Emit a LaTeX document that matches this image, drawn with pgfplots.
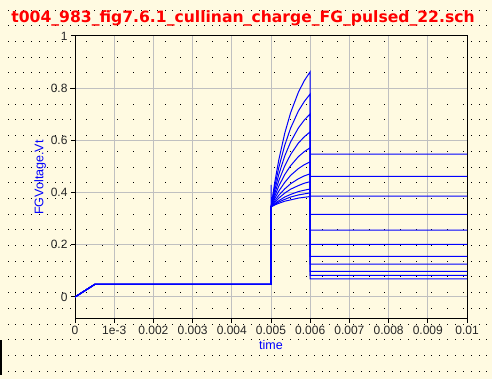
\documentclass[border=0pt]{standalone}
\usepackage{pgfplots}
\pgfplotsset{compat=1.18}
\usepackage{fontspec}
\setmainfont{Liberation Sans}
\newfontfamily\titlefont{DejaVu Sans}
\definecolor{bgc}{RGB}{255,250,225}
\definecolor{gridc}{RGB}{192,192,192}
\definecolor{qblue}{RGB}{0,0,255}
\pgfplotsset{qline/.style={draw=qblue, solid, line width=1pt, mark=none}}
\begin{document}
\begin{tikzpicture}[x=1pt,y=1pt]
\fill[bgc] (0,0) rectangle (492,379);
\path[use as bounding box] (0,0) rectangle (492,379);
\foreach \i in {0,...,30} {\foreach \j in {0,...,23} {\fill[black] ({7.5+15.7*\i},{379-9.6-15.7*\j}) rectangle +(1,-1);}}
\begin{scope}[even odd rule]
\clip (0,0) rectangle (492,379) (75,60) rectangle (467,343);
\foreach \i in {0,...,30} {\foreach \j in {0,...,23} {\fill[black] ({15.35+15.7*\i},{379-9.6-15.7*\j}) rectangle +(1,-1);}}
\end{scope}
\fill[black] (0,4) rectangle (1.5,39);
\node[text=red, font=\titlefont\bfseries\fontsize{15.6}{18}\selectfont] at (243,361) {t004\_983\_fig7.6.1\_cullinan\_charge\_FG\_pulsed\_22.sch};
\begin{axis}[at={(75pt,60pt)}, anchor=south west, scale only axis, width=392pt, height=283pt,
  xmin=0, xmax=0.01, ymin=-0.0843, ymax=1,
  xtick={0,0.001,0.002,0.003,0.004,0.005,0.006,0.007,0.008,0.009,0.01},
  xticklabels={0,1e-3,0.002,0.003,0.004,0.005,0.006,0.007,0.008,0.009,0.01},
  ytick={0,0.2,0.4,0.6,0.8,1}, yticklabels={0,0.2,0.4,0.6,0.8,1},
  scaled x ticks=false,
  grid=major, major grid style={gridc, line width=1pt},
  axis line style={black, line width=1pt},
  tick style={black, line width=1pt},
  tick align=outside, xtick pos=left, ytick pos=left,
  major tick length=4pt,
  tick label style={font=\fontsize{12}{14}\selectfont, text=black!85},
  xlabel=time, ylabel=FGVoltage.Vt,
  label style={text=qblue, font=\fontsize{12.5}{14}\selectfont},
  xlabel style={at={(axis description cs:0.5,-0.092)}, anchor=center},
  ylabel style={at={(axis description cs:-0.089,0.5)}, anchor=center},
]
\addplot[qline] coordinates {(0,0)(0.0005,0.048)(0.005,0.048)(0.005,0.43)(0.005,0.27)(0.005,0.345)(0.0051,0.443)(0.0052,0.526)(0.00535,0.627)(0.0055,0.706)(0.0057,0.785)(0.00585,0.829)(0.006,0.863)(0.006,0.308)(0.006,0.547)(0.01,0.547)};
\addplot[qline] coordinates {(0,0)(0.0005,0.048)(0.005,0.048)(0.005,0.345)(0.0051,0.427)(0.0052,0.497)(0.00535,0.581)(0.0055,0.647)(0.0057,0.713)(0.00585,0.749)(0.006,0.778)(0.006,0.462)(0.01,0.462)};
\addplot[qline] coordinates {(0,0)(0.0005,0.048)(0.005,0.048)(0.005,0.345)(0.0051,0.412)(0.0052,0.470)(0.00535,0.540)(0.0055,0.594)(0.0057,0.648)(0.00585,0.678)(0.006,0.702)(0.006,0.386)(0.01,0.386)};
\addplot[qline] coordinates {(0,0)(0.0005,0.048)(0.005,0.048)(0.005,0.345)(0.0051,0.399)(0.0052,0.446)(0.00535,0.502)(0.0055,0.546)(0.0057,0.590)(0.00585,0.614)(0.006,0.633)(0.006,0.317)(0.01,0.317)};
\addplot[qline] coordinates {(0,0)(0.0005,0.048)(0.005,0.048)(0.005,0.345)(0.0051,0.388)(0.0052,0.425)(0.00535,0.469)(0.0055,0.503)(0.0057,0.538)(0.00585,0.557)(0.006,0.572)(0.006,0.256)(0.01,0.256)};
\addplot[qline] coordinates {(0,0)(0.0005,0.048)(0.005,0.048)(0.005,0.345)(0.0051,0.378)(0.0052,0.406)(0.00535,0.439)(0.0055,0.466)(0.0057,0.492)(0.00585,0.507)(0.006,0.518)(0.006,0.202)(0.01,0.202)};
\addplot[qline] coordinates {(0,0)(0.0005,0.048)(0.005,0.048)(0.005,0.345)(0.0051,0.369)(0.0052,0.390)(0.00535,0.414)(0.0055,0.434)(0.0057,0.453)(0.00585,0.464)(0.006,0.472)(0.006,0.156)(0.01,0.156)};
\addplot[qline] coordinates {(0,0)(0.0005,0.048)(0.005,0.048)(0.005,0.345)(0.0051,0.363)(0.0052,0.379)(0.00535,0.398)(0.0055,0.413)(0.0057,0.427)(0.00585,0.436)(0.006,0.442)(0.006,0.126)(0.01,0.126)};
\addplot[qline] coordinates {(0,0)(0.0005,0.048)(0.005,0.048)(0.005,0.345)(0.0051,0.358)(0.0052,0.369)(0.00535,0.383)(0.0055,0.393)(0.0057,0.404)(0.00585,0.409)(0.006,0.414)(0.006,0.098)(0.01,0.098)};
\addplot[qline] coordinates {(0,0)(0.0005,0.048)(0.005,0.048)(0.005,0.345)(0.0051,0.355)(0.0052,0.364)(0.00535,0.374)(0.0055,0.383)(0.0057,0.391)(0.00585,0.395)(0.006,0.399)(0.006,0.083)(0.01,0.083)};
\addplot[qline] coordinates {(0,0)(0.0005,0.048)(0.005,0.048)(0.005,0.345)(0.0051,0.353)(0.0052,0.359)(0.00535,0.367)(0.0055,0.372)(0.0057,0.379)(0.00585,0.382)(0.006,0.385)(0.006,0.069)(0.01,0.069)};
\end{axis}
\end{tikzpicture}
\end{document}
